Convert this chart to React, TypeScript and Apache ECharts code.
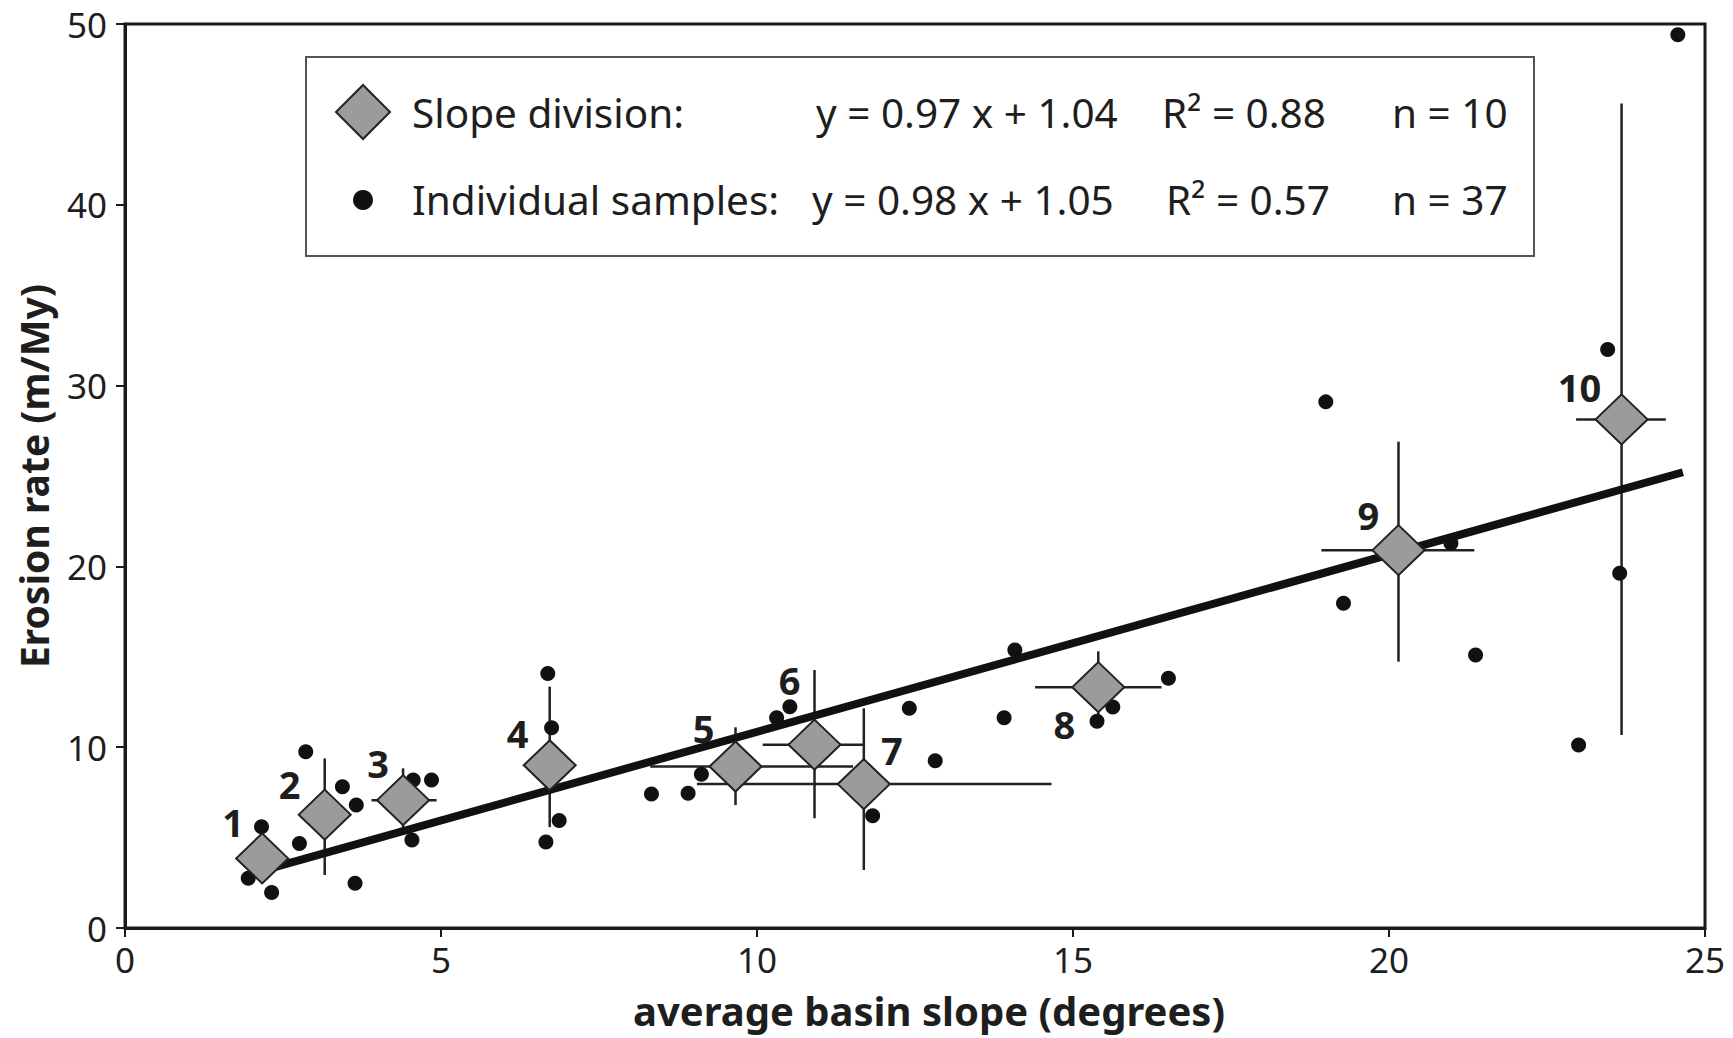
import React, { useEffect, useRef } from "react";
import * as echarts from "echarts";

// Slope classes: mean basin slope (degrees) and mean erosion rate (m/My)
const classIds = ["1", "2", "3", "4", "5", "6", "7", "8", "9", "10"];
const classSlope = [2.17, 3.16, 4.4, 6.72, 9.66, 10.91, 11.69, 15.4, 20.15, 23.68];
const classRate = [3.85, 6.27, 7.07, 9.0, 8.93, 10.14, 7.96, 13.32, 20.9, 28.13];
// Spread of each class (slope range and erosion-rate range)
const slopeLow = [2.17, 3.16, 3.9, 6.72, 8.31, 10.09, 9.05, 14.4, 18.93, 22.96];
const slopeHigh = [2.17, 3.16, 4.93, 6.72, 11.52, 11.71, 14.66, 16.4, 21.35, 24.38];
const rateLow = [3.85, 2.93, 5.3, 5.58, 6.8, 6.07, 3.21, 11.3, 14.73, 10.67];
const rateHigh = [3.85, 9.38, 8.83, 13.35, 11.1, 14.27, 12.15, 15.3, 26.9, 45.6];

// Individual basin samples
const sampleSlope = [
  1.95, 2.16, 2.32, 2.76, 2.86, 3.44, 3.66, 3.64, 4.56, 4.85, 4.54, 6.69, 6.75,
  6.87, 6.66, 8.33, 8.91, 9.12, 10.31, 10.52, 11.83, 12.41, 12.82, 13.91, 14.08,
  15.38, 15.63, 16.51, 19.0, 19.28, 20.98, 21.37, 23.46, 23.65, 23.0, 24.57,
];
const sampleRate = [
  2.75, 5.6, 1.97, 4.68, 9.75, 7.81, 6.8, 2.47, 8.19, 8.19, 4.87, 14.08, 11.07,
  5.95, 4.75, 7.41, 7.45, 8.5, 11.63, 12.24, 6.21, 12.15, 9.25, 11.63, 15.38,
  11.44, 12.23, 13.81, 29.1, 17.96, 21.28, 15.1, 32.0, 19.62, 10.12, 49.4,
];

// Regression statistics
const divisionFit = { slope: 0.97, intercept: 1.04, r2: 0.88, n: 10 };
const sampleFit = { slope: 0.98, intercept: 1.05, r2: 0.57, n: 37 };
const fitRange = [2.2, 24.65];

// Axis ticks
const xTicks = { min: 0, max: 25, interval: 5 };
const yTicks = { min: 0, max: 50, interval: 10 };

// Placement of the class numbers relative to their diamonds (px)
const LABEL_OFFSETS: [number, number][] = [
  [-29, -36], [-35, -31], [-25, -37], [-32, -32], [-32, -39],
  [-25, -65], [28, -34], [-34, 37], [-30, -35], [-42, -32],
];

const FONT = "'Noto Sans', 'Open Sans', sans-serif";
const INK = "#1e1e1e";

function eqText(f: { slope: number; intercept: number }) {
  return `y = ${f.slope.toFixed(2)} x + ${f.intercept.toFixed(2)}`;
}

export default function App() {
  const ref = useRef<HTMLDivElement>(null);

  useEffect(() => {
    document.body.style.margin = "0";
    if (!ref.current) return;
    const chart = echarts.init(ref.current, undefined, { renderer: "svg" });

    const errorData = classSlope.map((x, i) => [
      x, classRate[i], slopeLow[i], slopeHigh[i], rateLow[i], rateHigh[i],
    ]);
    const fitLine = fitRange.map((x) => [x, sampleFit.slope * x + sampleFit.intercept]);

    const textStyle = { fontFamily: FONT, fontSize: 40.5, fill: INK };

    const option: any = {
      animation: false,
      backgroundColor: "#fff",
      grid: {
        left: 125,
        right: 28,
        top: 24,
        bottom: 110,
        show: true,
        borderColor: "#1a1a1a",
        borderWidth: 3,
        backgroundColor: "transparent",
      },
      xAxis: {
        type: "value",
        min: xTicks.min,
        max: xTicks.max,
        interval: xTicks.interval,
        name: "average basin slope (degrees)",
        nameLocation: "middle",
        nameGap: 62,
        nameTextStyle: {
          fontFamily: FONT,
          fontSize: 40,
          fontWeight: "bold",
          color: INK,
          padding: [0, 0, 0, 28],
        },
        axisLine: { show: true, lineStyle: { color: "#1a1a1a", width: 3 } },
        axisTick: { show: true, inside: false, length: 9, lineStyle: { color: "#1a1a1a", width: 2 } },
        axisLabel: { fontFamily: FONT, fontSize: 35, color: INK, margin: 14 },
        splitLine: { show: false },
      },
      yAxis: {
        type: "value",
        min: yTicks.min,
        max: yTicks.max,
        interval: yTicks.interval,
        name: "Erosion rate (m/My)",
        nameLocation: "middle",
        nameRotate: 90,
        nameGap: 72,
        nameTextStyle: { fontFamily: FONT, fontSize: 39, fontWeight: "bold", color: INK },
        axisLine: { show: true, lineStyle: { color: "#1a1a1a", width: 3 } },
        axisTick: { show: true, inside: false, length: 9, lineStyle: { color: "#1a1a1a", width: 2 } },
        axisLabel: { fontFamily: FONT, fontSize: 35, color: INK, margin: 18 },
        splitLine: { show: false },
      },
      series: [
        {
          name: "spread",
          type: "custom",
          z: 1,
          encode: { x: 0, y: 1 },
          data: errorData,
          renderItem: (_params: any, api: any) => {
            const xl = api.coord([api.value(2), api.value(1)]);
            const xh = api.coord([api.value(3), api.value(1)]);
            const yl = api.coord([api.value(0), api.value(4)]);
            const yh = api.coord([api.value(0), api.value(5)]);
            const style = { stroke: "#222", lineWidth: 2.5 };
            return {
              type: "group",
              children: [
                { type: "line", shape: { x1: xl[0], y1: xl[1], x2: xh[0], y2: xh[1] }, style },
                { type: "line", shape: { x1: yl[0], y1: yl[1], x2: yh[0], y2: yh[1] }, style },
              ],
            };
          },
        },
        {
          name: "Individual samples",
          type: "scatter",
          z: 2,
          symbol: "circle",
          symbolSize: 15,
          itemStyle: { color: "#111", opacity: 1 },
          data: sampleSlope.map((x, i) => [x, sampleRate[i]]),
        },
        {
          name: "fit",
          type: "line",
          z: 3,
          showSymbol: false,
          symbol: "none",
          lineStyle: { color: "#111", width: 8 },
          data: fitLine,
        },
        {
          name: "Slope division",
          type: "scatter",
          z: 4,
          symbol: "diamond",
          symbolSize: [52, 50],
          itemStyle: { color: "#9b9b9b", borderColor: "#222", borderWidth: 2, opacity: 1 },
          label: {
            show: true,
            position: "inside",
            fontFamily: FONT,
            fontSize: 38,
            fontWeight: "bold",
            color: INK,
            opacity: 1,
            formatter: (p: any) => classIds[p.dataIndex],
          },
          data: classSlope.map((x, i) => ({
            value: [x, classRate[i]],
            label: { offset: LABEL_OFFSETS[i] },
          })),
        },
      ],
      graphic: [
        {
          type: "rect",
          z: 10,
          shape: { x: 306, y: 57, width: 1228, height: 199 },
          style: { fill: "#fff", stroke: "#555", lineWidth: 2 },
        },
        {
          type: "polygon",
          z: 11,
          shape: { points: [[363, 85], [390, 112], [363, 139], [336, 112]] },
          style: { fill: "#9b9b9b", stroke: "#222", lineWidth: 2 },
        },
        {
          type: "circle",
          z: 11,
          shape: { cx: 363, cy: 200, r: 10 },
          style: { fill: "#111" },
        },
        { type: "text", z: 11, x: 412, y: 112, style: { ...textStyle, text: "Slope division:", verticalAlign: "middle" } },
        { type: "text", z: 11, x: 816, y: 112, style: { ...textStyle, text: eqText(divisionFit), verticalAlign: "middle" } },
        { type: "text", z: 11, x: 1162, y: 112, style: { ...textStyle, text: `R² = ${divisionFit.r2.toFixed(2)}`, verticalAlign: "middle" } },
        { type: "text", z: 11, x: 1392, y: 112, style: { ...textStyle, text: `n = ${divisionFit.n}`, verticalAlign: "middle" } },
        { type: "text", z: 11, x: 412, y: 199, style: { ...textStyle, text: "Individual samples:", verticalAlign: "middle" } },
        { type: "text", z: 11, x: 812, y: 199, style: { ...textStyle, text: eqText(sampleFit), verticalAlign: "middle" } },
        { type: "text", z: 11, x: 1166, y: 199, style: { ...textStyle, text: `R² = ${sampleFit.r2.toFixed(2)}`, verticalAlign: "middle" } },
        { type: "text", z: 11, x: 1392, y: 199, style: { ...textStyle, text: `n = ${sampleFit.n}`, verticalAlign: "middle" } },
      ],
    };

    chart.setOption(option);
    return () => chart.dispose();
  }, []);

  return <div ref={ref} style={{ width: 1733, height: 1038 }} />;
}
